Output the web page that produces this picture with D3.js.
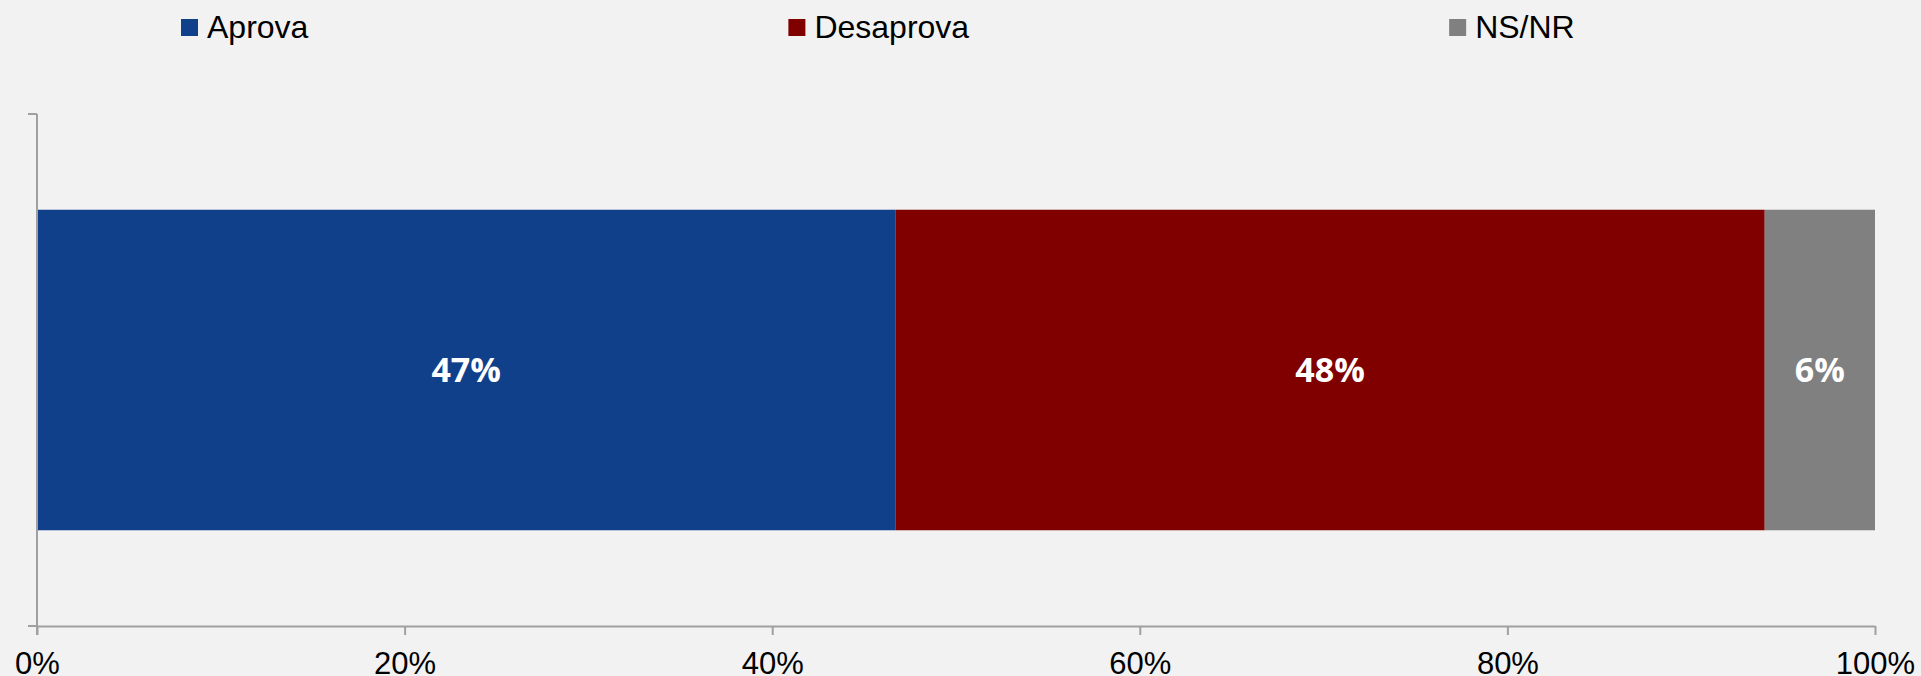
<!DOCTYPE html>
<html>
<head>
<meta charset="utf-8">
<script src="https://cdn.jsdelivr.net/npm/d3@7"></script>
<style>
  html, body { margin: 0; padding: 0; background: #f2f2f2; }
  svg { display: block; }
</style>
</head>
<body>
<script>
// ---- data ----
const categories = ["Avaliação"];
const seriesNames = ["Aprova", "Desaprova", "NS/NR"];
const seriesValues = [46.7, 47.3, 6.0];
const seriesLabels = ["47%", "48%", "6%"];
const seriesColors = ["#11408b", "#800000", "#808080"];
const xTicks = [0, 20, 40, 60, 80, 100];

const W = 1921, H = 676;
const svg = d3.select("body").append("svg").attr("width", W).attr("height", H);
svg.append("rect").attr("width", W).attr("height", H).attr("fill", "#f2f2f2");

const x = d3.scaleLinear().domain([0, 100]).range([37, 1875]);
const y = d3.scaleBand().domain(categories).range([114, 626]).padding(0.23);

const axisColor = "#a0a0a0";

// stacked data
let acc = 0;
const stacked = seriesValues.map((v, i) => {
  const d = { name: seriesNames[i], x0: acc, x1: acc + v, label: seriesLabels[i], color: seriesColors[i] };
  acc += v;
  return d;
});

const g = svg.append("g");
g.selectAll("rect.bar").data(stacked).enter().append("rect")
  .attr("class", "bar")
  .attr("x", d => x(d.x0))
  .attr("width", d => x(d.x1) - x(d.x0))
  .attr("y", y(categories[0]))
  .attr("height", y.bandwidth())
  .attr("fill", d => d.color);

g.selectAll("text.lbl").data(stacked).enter().append("text")
  .attr("class", "lbl")
  .attr("x", d => (x(d.x0) + x(d.x1)) / 2)
  .attr("y", y(categories[0]) + y.bandwidth() / 2 + 12)
  .attr("text-anchor", "middle")
  .attr("fill", "#ffffff")
  .style("font-family", "'Open Sans', 'Noto Sans', sans-serif")
  .style("font-weight", "700")
  .style("font-size", "34px")
  .text(d => d.label);

// bottom axis
const xAxis = d3.axisBottom(x).tickValues(xTicks).tickFormat(d => d + "%").tickSizeInner(9).tickSizeOuter(0);
const ax = svg.append("g").attr("transform", "translate(0,626)").call(xAxis);
ax.select(".domain").attr("stroke", axisColor).attr("stroke-width", 2);
ax.selectAll(".tick line").attr("stroke", axisColor).attr("stroke-width", 2);
ax.selectAll(".tick text")
  .attr("fill", "#000")
  .attr("y", 0).attr("dy", 0)
  .attr("transform", "translate(0,48)")
  .style("font-family", "'Liberation Sans', Arial, sans-serif")
  .style("font-size", "31px");

// left axis (category axis with ticks at band boundaries)
const [yTop, yBot] = y.range();
const la = svg.append("g");
la.append("line").attr("x1", x(0)).attr("x2", x(0)).attr("y1", yTop).attr("y2", yBot + 9)
  .attr("stroke", axisColor).attr("stroke-width", 2);
[yTop, yBot].forEach(v => {
  la.append("line").attr("x1", x(0) - 9).attr("x2", x(0)).attr("y1", v).attr("y2", v)
    .attr("stroke", axisColor).attr("stroke-width", 2);
});

// legend
const legend = svg.append("g");
let lx = 181;
seriesNames.forEach((n, i) => {
  legend.append("rect").attr("x", lx).attr("y", 19).attr("width", 17).attr("height", 17).attr("fill", seriesColors[i]);
  const t = legend.append("text").attr("x", lx + 26).attr("y", 38)
    .attr("fill", "#000")
    .style("font-family", "'Liberation Sans', Arial, sans-serif")
    .style("font-size", "32px")
    .text(n);
  const w = t.node().getComputedTextLength();
  lx = lx + 26 + w + 480;
});
</script>
</body>
</html>
